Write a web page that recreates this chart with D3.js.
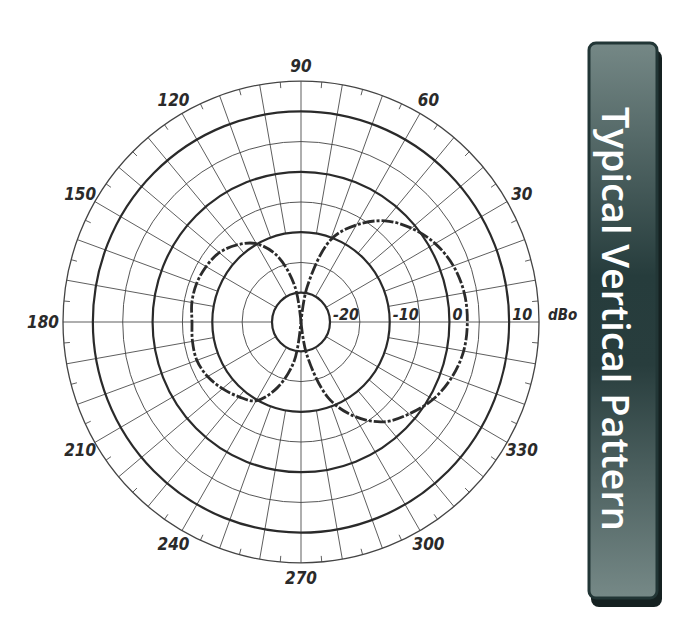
<!DOCTYPE html>
<html>
<head>
<meta charset="utf-8">
<script src="https://cdn.jsdelivr.net/npm/d3@7"></script>
<style>
  body { margin: 0; background: #fff; }
  svg { display: block; }
  .lbl { font-family: "DejaVu Sans Condensed", "Roboto Condensed", Roboto, sans-serif; font-stretch: condensed; font-style: italic; font-weight: bold; fill: #2a2a2a; }
</style>
</head>
<body>
<div id="chart"></div>
<script>
// level rings (dBo) and spoke angles
var ringsThick = [-20, -10, 0, 10];
var ringsThin = [-15, -5, 5, 15];
var ringLabels = ["-20", "-10", "0", "10"];
var angleLabels = [30, 60, 90, 120, 150, 180, 210, 240, 270, 300, 330];

// right lobe, angle in degrees (ccw from 0) and level in dBo
var rightAngles = [-90, -80, -70, -60, -50, -40, -30, -20, -10, 0, 10, 20, 30, 40, 50, 60, 70, 80, 90];
var rightLevels = [-25, -19.5, -11.5, -6.8, -3.3, -1.2, 0.7, 2.0, 2.8, 3.0, 2.9, 2.3, 1.1, -0.7, -3.0, -6.3, -10.4, -19.0, -25];

// left lobe
var leftAngles = [90, 100, 110, 120, 130, 140, 150, 160, 170, 180, 190, 200, 210, 220, 230, 240, 250, 260, 270];
var leftLevels = [-25, -18.8, -13.2, -9.9, -8.2, -7.0, -6.5, -6.25, -6.3, -6.6, -6.4, -6.3, -6.8, -7.7, -8.7, -9.8, -13.3, -18.3, -25];

var width = 689, height = 618;
var cx = 301, cy = 322;

var svg = d3.select("#chart").append("svg")
    .attr("width", width)
    .attr("height", height);

var r = d3.scaleLinear().domain([-20, 15]).range([29, 238]);
function rr(v) { return Math.max(0, r(v)); }
var rad = function(a) { return a * Math.PI / 180; };

var g = svg.append("g")
    .attr("transform", "translate(" + cx + "," + cy + ") scale(1,1.012)");

// spokes every 10 deg; the 30 deg ones reach the inner ring
var spokes = d3.range(0, 360, 10);
g.selectAll("line.spoke")
    .data(spokes)
    .enter().append("line")
    .attr("class", "spoke")
    .attr("x1", function(d) { return (d % 30 == 0 ? r(-20) : r(-10)) * Math.cos(rad(d)); })
    .attr("y1", function(d) { return -(d % 30 == 0 ? r(-20) : r(-10)) * Math.sin(rad(d)); })
    .attr("x2", function(d) { return r(15) * Math.cos(rad(d)); })
    .attr("y2", function(d) { return -r(15) * Math.sin(rad(d)); })
    .attr("stroke", "#4d4d4d")
    .attr("stroke-width", 0.9);

// small ticks at 5 deg on the outer ring
var ticks = d3.range(5, 360, 10);
g.selectAll("line.tick")
    .data(ticks)
    .enter().append("line")
    .attr("class", "tick")
    .attr("x1", function(d) { return (r(15) - 6) * Math.cos(rad(d)); })
    .attr("y1", function(d) { return -(r(15) - 6) * Math.sin(rad(d)); })
    .attr("x2", function(d) { return r(15) * Math.cos(rad(d)); })
    .attr("y2", function(d) { return -r(15) * Math.sin(rad(d)); })
    .attr("stroke", "#4d4d4d")
    .attr("stroke-width", 0.9);

g.selectAll("circle.thin")
    .data(ringsThin)
    .enter().append("circle")
    .attr("class", "thin")
    .attr("r", function(d) { return r(d); })
    .attr("fill", "none")
    .attr("stroke", "#444")
    .attr("stroke-width", function(d) { return d == 15 ? 1.3 : 0.9; });

g.selectAll("circle.thick")
    .data(ringsThick)
    .enter().append("circle")
    .attr("class", "thick")
    .attr("r", function(d) { return r(d); })
    .attr("fill", "none")
    .attr("stroke", "#2a2a2a")
    .attr("stroke-width", 2.2);

// pattern lobes
var lobe = d3.lineRadial()
    .angle(function(d) { return rad(90 - d[0]); })
    .radius(function(d) { return rr(d[1]); })
    .curve(d3.curveCatmullRom);

var lobes = [d3.zip(rightAngles, rightLevels), d3.zip(leftAngles, leftLevels)];
g.selectAll("path.lobe")
    .data(lobes)
    .enter().append("path")
    .attr("class", "lobe")
    .attr("d", lobe)
    .attr("fill", "none")
    .attr("stroke", "#2b2b2b")
    .attr("stroke-width", 2.8)
    .attr("stroke-dasharray", "12,2,3,2");

// level labels along 0 deg
g.selectAll("text.lvl")
    .data(ringsThick)
    .enter().append("text")
    .attr("class", "lbl")
    .attr("x", function(d) { return r(d) + 3; })
    .attr("y", -1.5)
    .attr("font-size", 16)
    .text(function(d, i) { return ringLabels[i]; });

g.append("text")
    .attr("class", "lbl")
    .attr("x", r(15) + 9)
    .attr("y", -1.5)
    .attr("font-size", 15)
    .text("dBo");

// angle labels
g.selectAll("text.ang")
    .data(angleLabels)
    .enter().append("text")
    .attr("class", "lbl")
    .attr("x", function(d) { return (d == 180 ? 258 : 255) * Math.cos(rad(d)); })
    .attr("y", function(d) { return -253 * Math.sin(rad(d)); })
    .attr("text-anchor", "middle")
    .attr("dominant-baseline", "central")
    .attr("font-size", 17)
    .text(function(d) { return d; });

// side title panel
var defs = svg.append("defs");
var grad = defs.append("linearGradient")
    .attr("id", "panelGrad")
    .attr("x1", 0).attr("y1", 0).attr("x2", 0).attr("y2", 1);
grad.append("stop").attr("offset", "0%").attr("stop-color", "#758886");
grad.append("stop").attr("offset", "42%").attr("stop-color", "#263c3c");
grad.append("stop").attr("offset", "58%").attr("stop-color", "#283d3d");
grad.append("stop").attr("offset", "100%").attr("stop-color", "#768987");

svg.append("rect")
    .attr("x", 591).attr("y", 50)
    .attr("width", 71).attr("height", 557)
    .attr("rx", 8)
    .attr("fill", "#152121");

svg.append("rect")
    .attr("x", 589).attr("y", 43)
    .attr("width", 68).attr("height", 555)
    .attr("rx", 7)
    .attr("fill", "url(#panelGrad)")
    .attr("stroke", "#223636")
    .attr("stroke-width", 3);

svg.append("text")
    .attr("transform", "translate(602,107) rotate(90)")
    .attr("font-family", "Open Sans")
    .attr("font-weight", 600)
    .attr("font-size", 38)
    .attr("textLength", 424)
    .attr("lengthAdjust", "spacingAndGlyphs")
    .attr("fill", "#fff")
    .text("Typical Vertical Pattern");
</script>
</body>
</html>
